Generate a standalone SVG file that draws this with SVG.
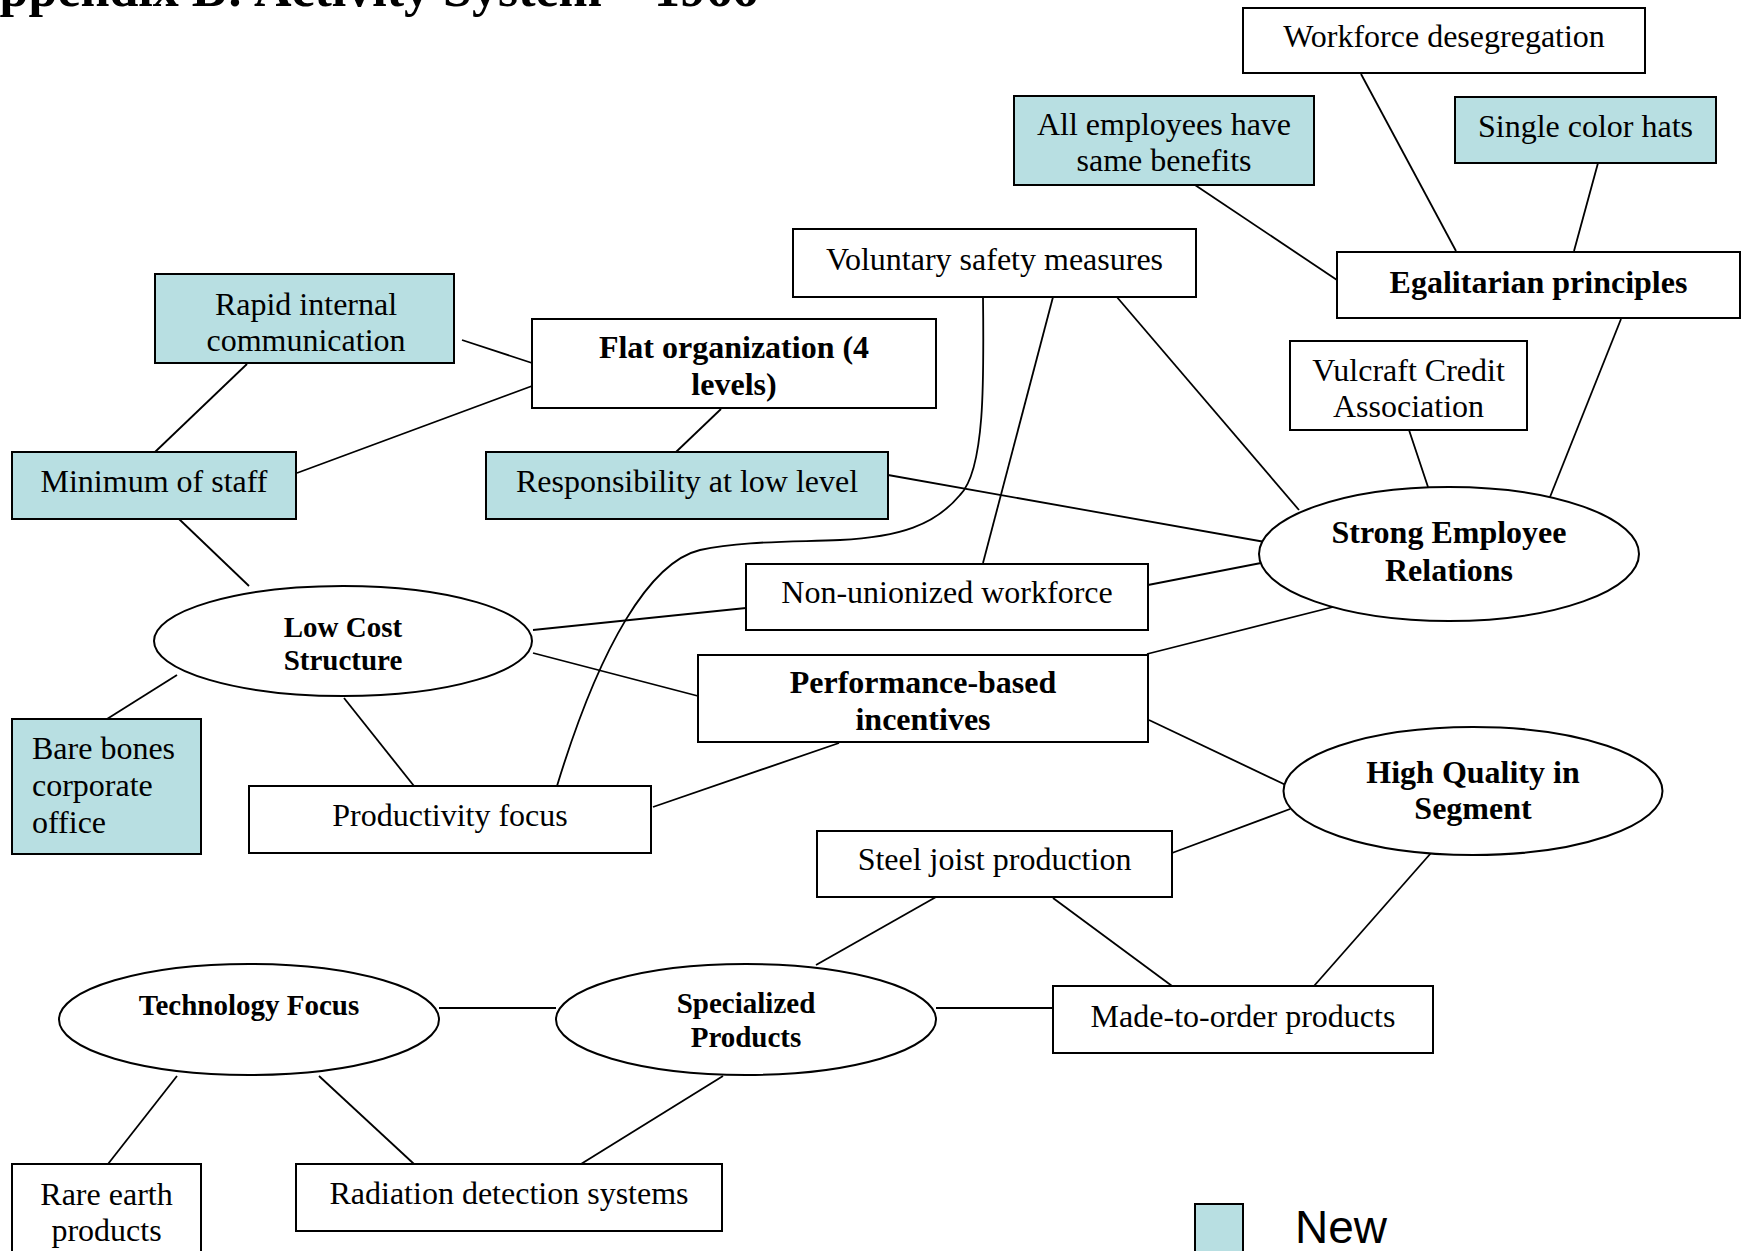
<svg xmlns="http://www.w3.org/2000/svg" width="1741" height="1251" viewBox="0 0 1741 1251">
<style>
  .box{fill:#ffffff;stroke:#000000;stroke-width:2}
  .new{fill:#B8DFE2;stroke:#000000;stroke-width:2}
  .ell{fill:#ffffff;stroke:#000000;stroke-width:2}
  .t{font-family:"Liberation Serif","Times New Roman",serif;font-size:32px;fill:#000000;text-anchor:middle}
  .b{font-weight:bold}
  .s{font-size:29px}
  .l{text-anchor:start}
  #connectors line,#connectors path{stroke:#000000;stroke-width:1.8;fill:none}
</style>
<rect x="0" y="0" width="1741" height="1251" fill="#ffffff"/>
<text x="-38" y="6" style="font-family:'Liberation Serif','Times New Roman',serif;font-size:52px;font-weight:bold">Appendix B: Activity System – 1966</text>

<g id="connectors">
  <line x1="1361" y1="74" x2="1456" y2="251"/>
  <line x1="1598" y1="163" x2="1574" y2="251"/>
  <line x1="1195" y1="185" x2="1337" y2="280"/>
  <line x1="1621" y1="319" x2="1550" y2="497"/>
  <line x1="1409" y1="430" x2="1428" y2="487"/>
  <line x1="1116" y1="296" x2="1299" y2="510"/>
  <line x1="1053" y1="297" x2="983" y2="563"/>
  <path d="M 983 297 C 984 380 985 470 960 495 C 935 525 900 537 840 540 C 790 542 740 541 700 550 C 650 562 600 645 557 786"/>
  <line x1="888" y1="475" x2="1265" y2="542"/>
  <line x1="1148" y1="585" x2="1261" y2="563"/>
  <line x1="1147" y1="654" x2="1333" y2="607"/>
  <line x1="462" y1="340" x2="532" y2="363"/>
  <line x1="247" y1="364" x2="155" y2="452"/>
  <line x1="532" y1="386" x2="297" y2="473"/>
  <line x1="721" y1="409" x2="676" y2="452"/>
  <line x1="179" y1="519" x2="249" y2="586"/>
  <line x1="177" y1="675" x2="107" y2="719"/>
  <line x1="344" y1="698" x2="414" y2="786"/>
  <line x1="533" y1="630" x2="746" y2="608"/>
  <line x1="533" y1="653" x2="698" y2="696"/>
  <line x1="653" y1="807" x2="839" y2="743"/>
  <line x1="1149" y1="720" x2="1290" y2="787"/>
  <line x1="1172" y1="853" x2="1290" y2="809"/>
  <line x1="1431" y1="853" x2="1314" y2="986"/>
  <line x1="1053" y1="898" x2="1172" y2="986"/>
  <line x1="936" y1="897" x2="816" y2="965"/>
  <line x1="936" y1="1008" x2="1053" y2="1008"/>
  <line x1="439" y1="1008" x2="556" y2="1008"/>
  <line x1="177" y1="1076" x2="108" y2="1164"/>
  <line x1="319" y1="1076" x2="414" y2="1164"/>
  <line x1="723" y1="1076" x2="581" y2="1164"/>
</g>

<g id="workforce-desegregation"><rect class="box" x="1243" y="8" width="402" height="65"/><text class="t" x="1444" y="47">Workforce desegregation</text></g>
<g id="all-employees"><rect class="new" x="1014" y="96" width="300" height="89"/><text class="t" x="1164" y="135">All employees have</text><text class="t" x="1164" y="171">same benefits</text></g>
<g id="single-color-hats"><rect class="new" x="1455" y="97" width="261" height="66"/><text class="t" x="1585.5" y="137">Single color hats</text></g>
<g id="egalitarian-principles"><rect class="box" x="1337" y="252" width="403" height="66"/><text class="t b" x="1538.5" y="293">Egalitarian principles</text></g>
<g id="voluntary-safety"><rect class="box" x="793" y="229" width="403" height="68"/><text class="t" x="994.5" y="270">Voluntary safety measures</text></g>
<g id="rapid-communication"><rect class="new" x="155" y="274" width="299" height="89"/><text class="t" x="306" y="315">Rapid internal</text><text class="t" x="306" y="351">communication</text></g>
<g id="flat-organization"><rect class="box" x="532" y="319" width="404" height="89"/><text class="t b" x="734" y="358">Flat organization (4</text><text class="t b" x="734" y="395">levels)</text></g>
<g id="vulcraft-credit"><rect class="box" x="1290" y="341" width="237" height="89"/><text class="t" x="1408.5" y="381">Vulcraft Credit</text><text class="t" x="1408.5" y="417">Association</text></g>
<g id="minimum-staff"><rect class="new" x="12" y="452" width="284" height="67"/><text class="t" x="154" y="492">Minimum of staff</text></g>
<g id="responsibility"><rect class="new" x="486" y="452" width="402" height="67"/><text class="t" x="687" y="492">Responsibility at low level</text></g>
<g id="strong-employee-relations"><ellipse class="ell" cx="1449" cy="554" rx="190" ry="67"/><text class="t b" x="1449" y="543">Strong Employee</text><text class="t b" x="1449" y="581">Relations</text></g>
<g id="non-unionized"><rect class="box" x="746" y="564" width="402" height="66"/><text class="t" x="947" y="603">Non-unionized workforce</text></g>
<g id="low-cost-structure"><ellipse class="ell" cx="343" cy="641" rx="189" ry="55"/><text class="t b s" x="343" y="637">Low Cost</text><text class="t b s" x="343" y="670">Structure</text></g>
<g id="performance-incentives"><rect class="box" x="698" y="655" width="450" height="87"/><text class="t b" x="923" y="693">Performance-based</text><text class="t b" x="923" y="730">incentives</text></g>
<g id="bare-bones"><rect class="new" x="12" y="719" width="189" height="135"/><text class="t l" x="32" y="759">Bare bones</text><text class="t l" x="32" y="796">corporate</text><text class="t l" x="32" y="833">office</text></g>
<g id="productivity-focus"><rect class="box" x="249" y="786" width="402" height="67"/><text class="t" x="450" y="826">Productivity focus</text></g>
<g id="high-quality"><ellipse class="ell" cx="1473" cy="791" rx="189.5" ry="64"/><text class="t b" x="1473" y="783">High Quality in</text><text class="t b" x="1473" y="819">Segment</text></g>
<g id="steel-joist"><rect class="box" x="817" y="831" width="355" height="66"/><text class="t" x="994.5" y="870">Steel joist production</text></g>
<g id="made-to-order"><rect class="box" x="1053" y="986" width="380" height="67"/><text class="t" x="1243" y="1027">Made-to-order products</text></g>
<g id="technology-focus"><ellipse class="ell" cx="249" cy="1019.5" rx="190" ry="55.5"/><text class="t b s" x="249" y="1015">Technology Focus</text></g>
<g id="specialized-products"><ellipse class="ell" cx="746" cy="1019.5" rx="190" ry="55.5"/><text class="t b s" x="746" y="1013">Specialized</text><text class="t b s" x="746" y="1047">Products</text></g>
<g id="rare-earth"><rect class="box" x="12" y="1164" width="189" height="110"/><text class="t" x="106.5" y="1205">Rare earth</text><text class="t" x="106.5" y="1241">products</text></g>
<g id="radiation-detection"><rect class="box" x="296" y="1164" width="426" height="67"/><text class="t" x="509" y="1204">Radiation detection systems</text></g>
<g id="legend"><rect class="new" x="1195" y="1204" width="48" height="70"/><text x="1295" y="1243" style="font-family:'Liberation Sans',Arial,sans-serif;font-size:46px">New</text></g>
</svg>
